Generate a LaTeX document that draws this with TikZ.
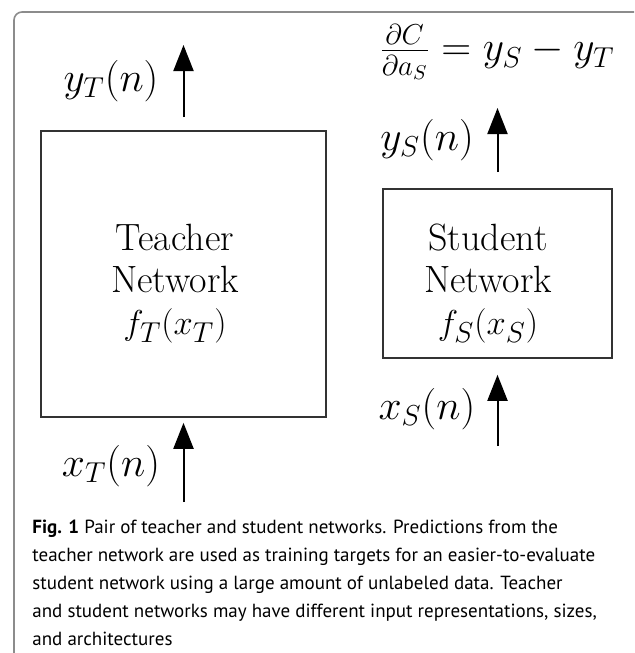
\documentclass[tikz,border=0pt]{standalone}
\usepackage{fontspec}
\newfontfamily\capfont{PT Sans}
\usetikzlibrary{arrows.meta}
\begin{document}
\begin{tikzpicture}[x=0.5pt,y=-0.5pt,
  netbox/.style={draw=boxline, line width=0.8pt},
  nettext/.style={align=center, font=\fontsize{19}{21}\selectfont},
  sig/.style={line width=1pt, -{Triangle[length=13pt,width=10pt]}},
  siglabel/.style={font=\fontsize{19.3}{21}\selectfont}]
\definecolor{boxline}{HTML}{333333}
\definecolor{framegray}{HTML}{8C8C8C}
\useasboundingbox (0,0) rectangle (634,653);
% frame of the figure
\draw[framegray, line width=0.8pt, rounded corners=4pt] (14,653) -- (14,12) -- (634,12);
% the two networks
\node[netbox, minimum width=142.5pt, minimum height=143pt] (teacher) at (183.5,274) {};
\node[nettext] (teachertxt) at (175,284) {Teacher\\Network\\$f_T(x_T)$};
\node[netbox, minimum width=114.5pt, minimum height=84.5pt] (student) at (497.5,273.5) {};
\node[nettext] (studenttxt) at (488,284) {Student\\Network\\$f_S(x_S)$};
% inputs and outputs
\coordinate (teacherout) at (183.5,45);
\coordinate (teacherin) at (183.5,502);
\coordinate (studentout) at (497.5,108);
\coordinate (studentin) at (497.5,446);
\draw[sig, shorten <=6.5pt] (teacher.north) -- (teacherout);
\draw[sig, shorten >=2.5pt] (teacherin) -- (teacher.south);
\draw[sig, shorten <=8pt] (student.north) -- (studentout);
\draw[sig, shorten >=8pt] (studentin) -- (student.south);
\node[siglabel] (yt) at (111,81) {$y_T(n)$};
\node[siglabel] (xt) at (111,466) {$x_T(n)$};
\node[siglabel] (ys) at (427,140) {$y_S(n)$};
\node[siglabel] (xs) at (427,409) {$x_S(n)$};
\node[siglabel] (grad) at (497,52) {$\frac{\partial C}{\partial a_S} = y_S - y_T$};
% caption
\node[anchor=north west, align=left, inner sep=0pt,
  font=\capfont\fontsize{9.5}{13.9}\selectfont] (caption) at (32,520)
  {\textbf{Fig. 1} Pair of teacher and student networks. Predictions from the\\
   teacher network are used as training targets for an easier-to-evaluate\\
   student network using a large amount of unlabeled data. Teacher\\
   and student networks may have different input representations, sizes,\\
   and architectures};
\end{tikzpicture}
\end{document}
